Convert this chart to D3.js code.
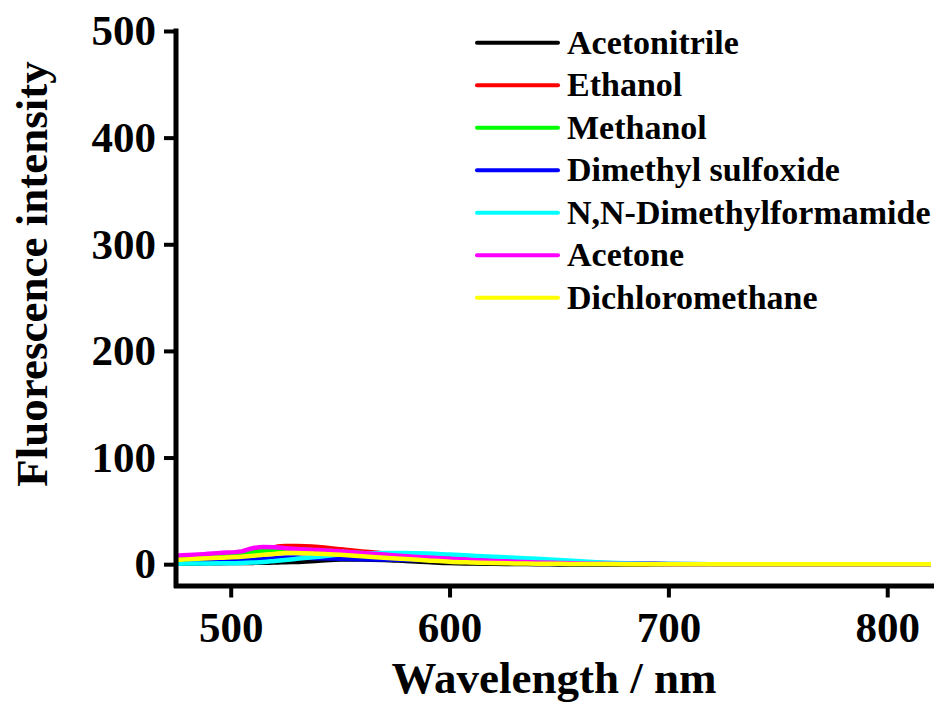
<!DOCTYPE html>
<html>
<head>
<meta charset="utf-8">
<script src="https://cdn.jsdelivr.net/npm/d3@7/dist/d3.min.js"></script>
<style>
  html, body { margin: 0; padding: 0; background: #fff; }
  svg { display: block; }
  text { font-family: "Liberation Serif", "Times New Roman", serif; font-weight: bold; fill: #000; }
</style>
</head>
<body>
<svg id="chart" width="939" height="706"></svg>
<script>
// ---- data ----
const wavelengths = [475,485,495,505,510,515,520,525,530,540,550,560,570,580,590,600,610,620,630,640,650,660,670,680,690,700,720,740,760,780,800,820];
const seriesNames = ["Acetonitrile","Ethanol","Methanol","Dimethyl sulfoxide","N,N-Dimethylformamide","Acetone","Dichloromethane"];
const seriesColors = ["#000000","#ff0000","#00ff00","#0000ff","#00ffff","#ff00ff","#ffff00"];
const acetonitrile = [0.5,0.7,0.9,1.1,1.2,1.4,1.5,1.8,2.1,3.2,4.3,4.5,4.0,3.0,2.0,1.0,0.6,0.3,0.1,0,-0.2,-0.3,-0.4,-0.5,-0.5,-0.5,-0.6,-0.5,-0.5,-0.6,-0.5,-0.5];
const ethanol = [6,7.5,9,11,12.5,14,16,17,17,16,14,12,10,8.5,7,5.5,4.2,3,2.2,1.5,1.1,0.8,0.5,0.3,0.2,0,0,0,-0.1,0,0,0];
const methanol = [5,6.5,8,10,11,12.5,13.5,14,14,13,12,10.5,9,7.5,6,4.5,3.5,2.5,1.8,1.2,0.8,0.5,0.3,0.2,0.1,0,0,0,0,0,0,0];
const dmso = [2,2.5,3.2,4,4.5,5,5.5,6.3,6.2,5.6,5,4.6,4.3,4,3.8,3.6,3.4,3.2,3,2.7,2.3,1.8,1.2,0.7,0.3,0.1,0,0,0,0,0,0];
const dmf = [0.5,0.6,0.8,1.1,1.5,2,3,4,5,7,9,10,10.5,10.5,10,9,8,7,6,5,3.8,2.7,1.6,0.9,0.4,0.1,0,0,0,0,0,0];
const acetone = [8,9,10.5,12,15,16,15.8,15,14.2,13.2,12.2,10.5,9,7.5,6.3,5,4,3,2.2,1.6,1.1,0.7,0.4,0.2,0.1,0,0,0,0,0,0,0];
const dichloromethane = [4,5,6,7,7.8,8.8,9.6,10.4,10.5,9.8,8.8,7.5,6,4.8,3.5,2.3,1.6,1,0.7,0.5,0.3,0.2,0.1,0,0,0,0,0,0,0,0,0];
const seriesValues = [acetonitrile, ethanol, methanol, dmso, dmf, acetone, dichloromethane];
const xTicks = [500,600,700,800];
const yTicks = [0,100,200,300,400,500];
const xTitle = "Wavelength / nm";
const yTitle = "Fluorescence intensity";

// ---- layout ----
const svg = d3.select("#chart");
const x = d3.scaleLinear().domain([475, 820]).range([176, 931]);
const y = d3.scaleLinear().domain([-20, 500]).range([585.5, 31]);

// lines
const line = d3.line()
  .x((d, i) => x(wavelengths[i]))
  .y(d => y(d))
  .curve(d3.curveMonotoneX);

const plot = svg.append("g");
seriesValues.forEach((vals, k) => {
  plot.append("path")
    .attr("d", line(vals))
    .attr("fill", "none")
    .attr("stroke", seriesColors[k])
    .attr("stroke-width", 4.5)
    .attr("stroke-linejoin", "round");
});

// axes
const xAxis = svg.append("g")
  .attr("transform", `translate(0,${y(-20)})`)
  .call(d3.axisBottom(x).tickValues(xTicks).tickSize(12).tickSizeOuter(0).tickPadding(14).tickFormat(d3.format("d")));
const yAxis = svg.append("g")
  .attr("transform", `translate(${x(475)},0)`)
  .call(d3.axisLeft(y).tickValues(yTicks).tickSize(12).tickSizeOuter(0).tickPadding(8).tickFormat(d3.format("d")));

[xAxis, yAxis].forEach(a => {
  a.select(".domain").attr("stroke", "#000").attr("stroke-width", 5).attr("stroke-linecap", "square");
  a.selectAll(".tick line").attr("stroke", "#000").attr("stroke-width", 4);
  a.selectAll(".tick text").style("font-family", "'Liberation Serif', 'Times New Roman', serif")
    .style("font-weight", "bold").style("font-size", "43px").attr("fill", "#000");
});
// the y-axis domain only from 500 down to the x axis
yAxis.select(".domain").attr("d", `M0,${y(500)}V${y(-20)}`);
xAxis.selectAll(".tick text").attr("dy", "0.71em");

// axis titles
svg.append("text")
  .attr("x", 554).attr("y", 693)
  .attr("text-anchor", "middle")
  .style("font-size", "45px")
  .text(xTitle);
svg.append("text")
  .attr("transform", "translate(47,274) rotate(-90)")
  .attr("text-anchor", "middle")
  .style("font-size", "45px")
  .text(yTitle);

// legend
const legend = svg.append("g");
seriesNames.forEach((name, k) => {
  const ly = 42.7 + k * 42.5;
  legend.append("line")
    .attr("x1", 477).attr("x2", 558)
    .attr("y1", ly).attr("y2", ly)
    .attr("stroke", seriesColors[k]).attr("stroke-width", 4).attr("stroke-linecap", "round");
  legend.append("text")
    .attr("x", 567).attr("y", ly + 11)
    .style("font-size", "34px")
    .text(name);
});
</script>
</body>
</html>
